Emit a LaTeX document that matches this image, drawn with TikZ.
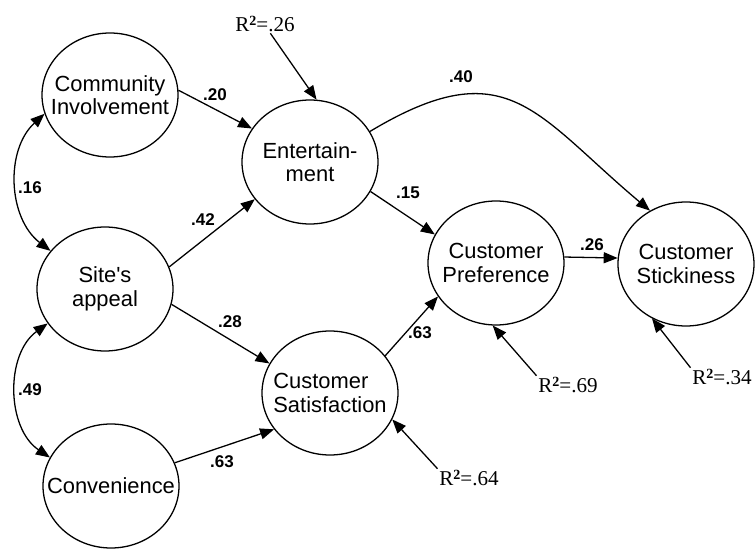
\documentclass[tikz,border=0pt]{standalone}
\usepackage{fontspec}
\setmainfont{Liberation Sans}
\newfontfamily\rsqfont{Liberation Serif}
\usetikzlibrary{shapes.geometric,arrows.meta}

\newcommand{\rsq}[1]{R\raisebox{0.55ex}{\fontsize{12}{12}\selectfont\bfseries 2}=#1}

\tikzset{
  latent/.style={draw, ellipse, minimum width=4.08cm, minimum height=3.72cm,
    inner xsep=-1cm, align=center, font=\fontsize{18.7}{20}\selectfont},
  coef/.style={font=\fontsize{14.5}{16}\selectfont\bfseries, inner sep=1pt},
  rsq/.style={font=\rsqfont\fontsize{18}{20}\selectfont, inner sep=1pt},
}

\begin{document}
\begin{tikzpicture}[line width=1.1pt, >={Triangle[length=4.2mm,width=3.3mm]}]
  \useasboundingbox (0,0) rectangle (22.68,16.47);

  % Constructs
  \node[latent] (com) at (3.30,13.62) {Community\\Involvement};
  \node[latent] (ent) at (9.30,11.61) {Entertain-\\ment};
  \node[latent] (site) at (3.15,7.80) {Site\textquotesingle s\\appeal};
  \node[latent] (conv) at (3.33,1.89) {Convenience};
  \node[latent, align=left] (sat) at (9.90,4.68) {Customer\\Satisfaction};
  \node[latent] (pref) at (14.88,8.58) {Customer\\Preference};
  \node[latent] (stick) at (20.58,8.55) {Customer\\Stickiness};

  % Explained variance
  \node[rsq] (r2ent) at (7.95,15.75) {\rsq{.26}};
  \node[rsq] (r2pref) at (17.04,4.92) {\rsq{.69}};
  \node[rsq] (r2sat) at (14.07,2.13) {\rsq{.64}};
  \node[rsq] (r2stick) at (21.66,5.16) {\rsq{.34}};

  % Path coefficients
  \node[coef] (c20) at (6.45,13.62) {.20};
  \node[coef] (c16) at (0.90,10.83) {.16};
  \node[coef] (c42) at (6.09,9.87) {.42};
  \node[coef] (c28) at (6.90,6.81) {.28};
  \node[coef] (c49) at (0.90,4.77) {.49};
  \node[coef] (c63a) at (6.66,2.61) {.63};
  \node[coef] (c63b) at (12.60,6.48) {.63};
  \node[coef] (c15) at (12.24,10.68) {.15};
  \node[coef] (c40) at (13.83,14.16) {.40};
  \node[coef] (c26) at (17.76,9.12) {.26};

  % Paths
  \draw[->] (com.4) -- (ent.150);
  \draw[->] (site.19) -- (ent.-146);
  \draw[->] (site.-13) -- (sat.154);
  \draw[->] (conv.20) -- (sat.-147);
  \draw[->] (sat.34) -- (pref.-150);
  \draw[->] (ent.-26) -- (pref.155);
  \draw[->] (pref.5) -- (stick.175);
  \draw[->] (ent.27) .. controls +(31:4.8) and +(140:4.5) .. (stick.124);

  % Correlations
  \draw[<->] (com.196) to[bend right=50] (site.145);
  \draw[<->] (site.211) to[bend right=55] (conv.155);

  % Residual arrows
  \draw[->] (r2ent.-60) -- (ent.84);
  \draw[->] (r2pref.north west) -- (pref.-93);
  \draw[->] (r2sat.north west) -- (sat.-23);
  \draw[->] (r2stick.north west) -- (stick.-122);
\end{tikzpicture}
\end{document}
